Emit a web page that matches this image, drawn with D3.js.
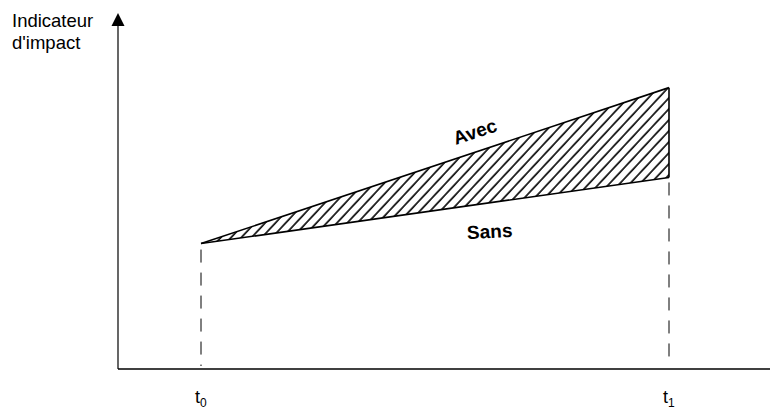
<!DOCTYPE html>
<html><head><meta charset="utf-8">
<script src="https://cdn.jsdelivr.net/npm/d3@7"></script>
<style>body{margin:0;background:#fff}svg{display:block}text{font-family:"Liberation Sans",Arial,sans-serif;fill:#000}</style>
</head><body>
<svg id="c" width="770" height="414"></svg>
<script>
const times = ["t0", "t1"];
const timeValues = [0, 1];
const avecValues = [37, 83];
const sansValues = [37, 56.5];
const yLabelLines = ["Indicateur", "d'impact"];
const seriesLabels = ["Avec", "Sans"];

const svg = d3.select("#c");
const x = d3.scaleLinear().domain([0, 1]).range([201, 669]);
const y = d3.scaleLinear().domain([0, 100]).range([369, 30]);

// hatch pattern
const defs = svg.append("defs");
const pat = defs.append("pattern").attr("id", "hatch").attr("patternUnits", "userSpaceOnUse")
  .attr("width", 7.5).attr("height", 7.5).attr("patternTransform", "rotate(43)");
pat.append("line").attr("x1", 1).attr("y1", -1).attr("x2", 1).attr("y2", 9)
  .attr("stroke", "#000").attr("stroke-width", 1.6);

const pts = timeValues.map((t, i) => ({t, a: avecValues[i], s: sansValues[i]}));
const area = d3.area().x(d => x(d.t)).y0(d => y(d.s)).y1(d => y(d.a));
svg.append("path").datum(pts).attr("d", area).attr("fill", "url(#hatch)").attr("stroke", "none");

const line = d3.line().x(d => x(d.t));
svg.append("path").datum(pts).attr("d", line.y(d => y(d.a))).attr("fill", "none").attr("stroke", "#000").attr("stroke-width", 1.6);
svg.append("path").datum(pts).attr("d", line.y(d => y(d.s))).attr("fill", "none").attr("stroke", "#000").attr("stroke-width", 1.6);
svg.append("line").attr("x1", x(1)).attr("x2", x(1)).attr("y1", y(avecValues[1])).attr("y2", y(sansValues[1]))
  .attr("stroke", "#000").attr("stroke-width", 1.6);

// dashed guides
pts.forEach((d, i) => {
  svg.append("line").attr("x1", x(d.t)).attr("x2", x(d.t))
    .attr("y1", y(d.s) + (i === 0 ? 6 : 5)).attr("y2", y(0) - 3)
    .attr("stroke", "#000").attr("stroke-width", 1).attr("stroke-dasharray", "13,10");
});

// axes
const axX = 118;
svg.append("line").attr("x1", axX).attr("x2", axX).attr("y1", y(0)).attr("y2", 24).attr("stroke", "#000").attr("stroke-width", 1.2);
svg.append("path").attr("d", `M${axX},13L${axX - 6.5},26L${axX + 6.5},26Z`).attr("fill", "#000");
svg.append("line").attr("x1", axX).attr("x2", 770).attr("y1", y(0)).attr("y2", y(0)).attr("stroke", "#000").attr("stroke-width", 1.5);

// y label
svg.append("text").attr("x", 12).attr("y", 27).attr("font-size", 18.5)
  .selectAll("tspan").data(yLabelLines).join("tspan")
  .attr("x", 12).attr("dy", (d, i) => i ? 22 : 0).text(d => d);

// time labels
times.forEach((t, i) => {
  const tx = svg.append("text").attr("x", x(timeValues[i]) - 6).attr("y", 403).attr("font-size", 18);
  tx.append("tspan").text(t[0]);
  tx.append("tspan").attr("font-size", 12).attr("dy", 4).text(t.slice(1));
});

// series labels
const angA = Math.atan2(y(avecValues[1]) - y(avecValues[0]), x(1) - x(0)) * 180 / Math.PI;
svg.append("text").attr("transform", `translate(477,138) rotate(${angA})`).attr("text-anchor", "middle")
  .attr("font-size", 19).attr("font-weight", "bold").text(seriesLabels[0]);
svg.append("text").attr("transform", `translate(490,238) rotate(-3)`).attr("text-anchor", "middle")
  .attr("font-size", 19).attr("font-weight", "bold").text(seriesLabels[1]);
</script>
</body></html>
